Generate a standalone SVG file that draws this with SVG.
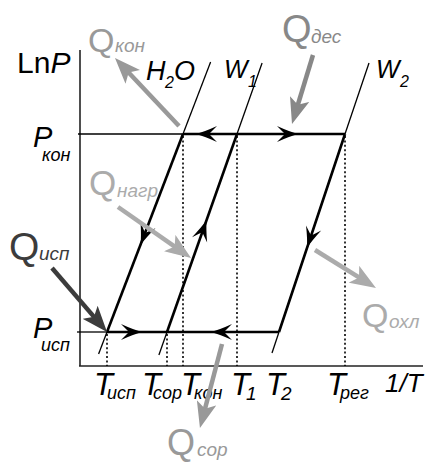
<svg xmlns="http://www.w3.org/2000/svg" width="430" height="462" viewBox="0 0 430 462">
<style>
text { font-family: "Liberation Sans", Arial, sans-serif; fill:#000; }
.it { font-style: italic; }
.ax { stroke:#222; stroke-width:1.6; fill:none; }
.thin { stroke:#000; stroke-width:1.3; fill:none; }
.thick { stroke:#000; stroke-width:2.6; fill:none; }
.dot { stroke:#000; stroke-width:1.6; stroke-dasharray:2 2.4; fill:none; }
.ah { fill:#000; }
.heat { stroke-width:4.5; fill:none; }
.T { font-size:31px; font-style:italic; }
.s { font-size:18px; font-style:italic; }
.qs { font-size:19px; font-style:italic; }
.g9 { fill:#999; } .g8 { fill:#888; } .ga { fill:#ababab; } .g4 { fill:#3c3c3c; }
</style>
<defs>
<path id="ah" d="M0,0 Q-9,-2.5 -21,-8 Q-15,-2 -13,0 Q-15,2 -21,8 Q-9,2.5 0,0 Z"/>
<marker id="m9" viewBox="0 0 26 20" refX="14" refY="10" markerWidth="26" markerHeight="20" orient="auto" markerUnits="userSpaceOnUse"><path d="M0,0 L26,10 L0,20 L6,10 Z" fill="#999"/></marker>
<marker id="m8" viewBox="0 0 26 20" refX="14" refY="10" markerWidth="26" markerHeight="20" orient="auto" markerUnits="userSpaceOnUse"><path d="M0,0 L26,10 L0,20 L6,10 Z" fill="#888"/></marker>
<marker id="ma" viewBox="0 0 26 20" refX="14" refY="10" markerWidth="26" markerHeight="20" orient="auto" markerUnits="userSpaceOnUse"><path d="M0,0 L26,10 L0,20 L6,10 Z" fill="#ababab"/></marker>
<marker id="m4" viewBox="0 0 26 20" refX="14" refY="10" markerWidth="26" markerHeight="20" orient="auto" markerUnits="userSpaceOnUse"><path d="M0,0 L26,10 L0,20 L6,10 Z" fill="#3c3c3c"/></marker>
</defs>

<g id="axes">
<line class="ax" x1="80" y1="50" x2="80" y2="366"/>
<line class="ax" x1="79" y1="366" x2="423" y2="366"/>
<text x="17" y="73" font-size="30">Ln<tspan class="it">P</tspan></text>
<text x="385" y="392" font-size="26" class="it">1/T</text>
</g>

<g id="level-Pkon">
<line class="thin" x1="78" y1="134" x2="183" y2="134"/>
<text class="it" x="33" y="147" font-size="29">P</text><text class="s" x="42" y="161">кон</text>
</g>
<g id="level-Pisp">
<line class="thin" x1="77" y1="332" x2="107" y2="332"/>
<text class="it" x="33" y="338" font-size="29">P</text><text class="s" x="41" y="351">исп</text>
</g>

<g id="iso-H2O">
<line class="thin" x1="210.6" y1="62" x2="183" y2="134"/>
<line class="thin" x1="107" y1="332" x2="98.6" y2="354"/>
<text class="it" x="146" y="80" font-size="27">H</text><text class="it" x="165" y="88" font-size="16">2</text><text class="it" x="174" y="80" font-size="27">O</text>
</g>
<g id="iso-W1">
<line class="thin" x1="262.1" y1="63" x2="237" y2="134"/>
<line class="thin" x1="167" y1="332" x2="158.9" y2="355"/>
<text class="it" x="224" y="78" font-size="25">W</text><text class="it" x="248" y="87" font-size="16">1</text>
</g>
<g id="iso-W2">
<line class="thin" x1="369" y1="63" x2="345" y2="134"/>
<line class="thin" x1="279" y1="332" x2="272" y2="353"/>
<text class="it" x="376" y="78" font-size="25">W</text><text class="it" x="400" y="87" font-size="16">2</text>
</g>

<g id="temperatures">
<line class="dot" x1="107" y1="334" x2="107" y2="366"/>
<line class="dot" x1="167" y1="334" x2="167" y2="366"/>
<line class="dot" x1="183" y1="136" x2="183" y2="366"/>
<line class="dot" x1="237" y1="136" x2="237" y2="366"/>
<line class="dot" x1="345" y1="136" x2="345" y2="366"/>
<text class="T" x="94" y="395">T</text><text class="s" x="107" y="399">исп</text>
<text class="T" x="142" y="395">T</text><text class="s" x="153" y="399">сор</text>
<text class="T" x="181" y="395">T</text><text class="s" x="194" y="399">кон</text>
<text class="T" x="231" y="395">T</text><text class="it" x="246" y="400" font-size="19">1</text>
<text class="T" x="266" y="395">T</text><text class="it" x="281" y="400" font-size="19">2</text>
<text class="T" x="327" y="395">T</text><text class="s" x="340" y="399">рег</text>
</g>

<g id="connectors">
<line class="thick" x1="183" y1="134" x2="345" y2="134"/>
<line class="thick" x1="107" y1="332" x2="279" y2="332"/>
<line class="thick" x1="183" y1="134" x2="107" y2="332"/>
<line class="thick" x1="167" y1="332" x2="237" y2="134"/>
<line class="thick" x1="345" y1="134" x2="279" y2="332"/>
<use href="#ah" class="ah" transform="translate(196,134) rotate(180)"/>
<use href="#ah" class="ah" transform="translate(298,134)"/>
<use href="#ah" class="ah" transform="translate(142,332)"/>
<use href="#ah" class="ah" transform="translate(211,332) rotate(180)"/>
<use href="#ah" class="ah" transform="translate(140.5,245) rotate(111)"/>
<use href="#ah" class="ah" transform="translate(206.6,220) rotate(-70.5)"/>
<use href="#ah" class="ah" transform="translate(307,248) rotate(108.4)"/>
<line class="heat" stroke="#999" x1="179" y1="126" x2="123.2" y2="66.7" marker-end="url(#m9)"/>
<line class="heat" stroke="#888" x1="313" y1="55" x2="295.5" y2="112.5" marker-end="url(#m8)"/>
<line class="heat" stroke="#ababab" x1="118" y1="207" x2="181.2" y2="251.1" marker-end="url(#ma)"/>
<line class="heat" stroke="#3c3c3c" x1="52" y1="268" x2="99.2" y2="322.9" marker-end="url(#m4)"/>
<line class="heat" stroke="#ababab" x1="315" y1="250" x2="365.8" y2="281.7" marker-end="url(#ma)"/>
<line class="heat" stroke="#999" x1="222" y1="344" x2="203" y2="416.4" marker-end="url(#m9)"/>
</g>

<g id="Q-kon"><text class="g9" x="88" y="52" font-size="34">Q</text><text class="qs g9" x="115" y="52">кон</text></g>
<g id="Q-des"><text class="g8" x="282" y="42" font-size="38">Q</text><text class="qs g8" x="311" y="43">дес</text></g>
<g id="Q-nagr"><text class="ga" x="89" y="195" font-size="35">Q</text><text class="qs ga" x="117" y="197">нагр</text></g>
<g id="Q-isp"><text class="g4" x="9" y="260" font-size="39">Q</text><text class="qs g4" x="39" y="260">исп</text></g>
<g id="Q-ohl"><text class="ga" x="362" y="327" font-size="34">Q</text><text class="qs ga" x="389" y="328">охл</text></g>
<g id="Q-sor"><text class="g9" x="167" y="455" font-size="36">Q</text><text class="qs g9" x="197" y="456">сор</text></g>
</svg>
